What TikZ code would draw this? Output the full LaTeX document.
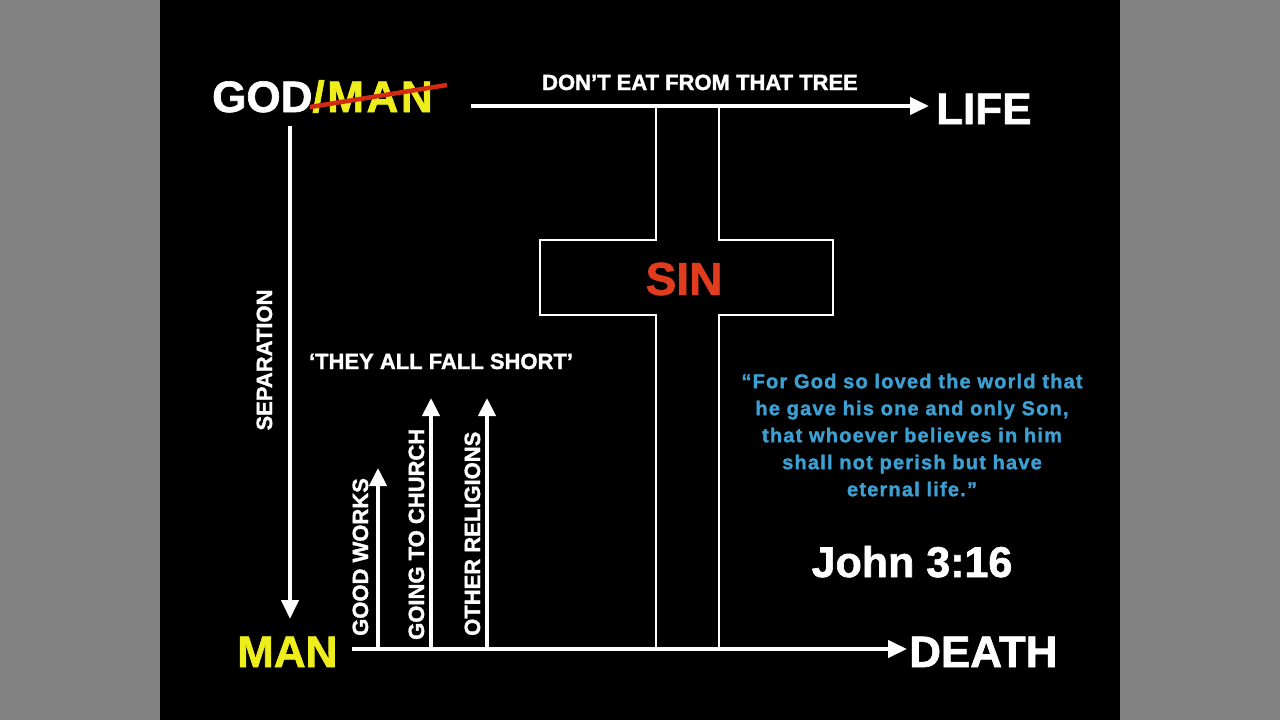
\documentclass[tikz,border=0pt]{standalone}
\usepackage{fontspec}
\setmainfont[BoldFeatures={FakeBold=1.5}]{Liberation Sans}
\newfontfamily\versefont[LetterSpace=6,BoldFeatures={FakeBold=1.5}]{Liberation Sans}
\usetikzlibrary{arrows.meta}
\definecolor{bggray}{HTML}{828282}
\definecolor{manyellow}{HTML}{EEEE1C}
\definecolor{sinred}{HTML}{E23C1E}
\definecolor{strikered}{HTML}{D42A12}
\definecolor{versecol}{HTML}{3CA0D2}
\begin{document}
\begin{tikzpicture}[x=1pt,y=-1pt,
  big/.style={font=\fontsize{44}{48}\selectfont\bfseries, inner sep=0pt, text=white},
  lbl/.style={font=\fontsize{22}{26}\selectfont\bfseries, inner sep=0pt, text=white},
  arr/.style={draw=white, line width=4pt, -{Triangle[length=19pt,width=17pt]}},
  uparr/.style={draw=white, line width=4pt, -{Triangle[length=18pt,width=17pt]}},
  crossline/.style={draw=white, line width=2pt},
  strike/.style={draw=strikered, line width=4.5pt}]
\useasboundingbox (0,0) rectangle (1280,720);
\fill[bggray] (0,0) rectangle (1280,720);
\fill[black] (160,0) rectangle (1120,720);

% main words
\node[big, anchor=base west] (god) at (212,112) {GOD\textcolor{manyellow}{\addfontfeature{LetterSpace=6}/MAN}};
\node[big, anchor=base west] (life) at (936,124) {LIFE};
\node[big, anchor=base west, text=manyellow] (man) at (237,667) {MAN};
\node[big, anchor=base west] (death) at (909,667) {DEATH};

% strike through /MAN
\coordinate (s1) at (310,107);
\coordinate (s2) at (447,85);
\draw[strike] (s1) -- (s2);

% labels
\node[lbl, anchor=base] (tree) at (700,90) {DON’T EAT FROM THAT TREE};
\node[lbl, anchor=base] (short) at (441,369) {‘THEY ALL FALL SHORT’};
\node[lbl, anchor=base, rotate=90] (sep) at (272,360) {SEPARATION};
\node[lbl, anchor=base west, rotate=90] (works) at (368,636) {GOOD WORKS};
\node[lbl, anchor=base west, rotate=90] (church) at (424,640) {GOING TO CHURCH};
\node[lbl, anchor=base west, rotate=90] (relig) at (480,636) {OTHER RELIGIONS};

% cross
\draw[crossline] (656,107) -- (656,240) -- (540,240) -- (540,315) -- (656,315) -- (656,649);
\draw[crossline] (719,107) -- (719,240) -- (833,240) -- (833,315) -- (719,315) -- (719,649);
\node[font=\fontsize{46}{50}\selectfont\bfseries, text=sinred, inner sep=0pt] (sin) at (684,279) {SIN};

% main arrows
\coordinate (topstart) at (471,106);
\coordinate (topend) at (929,106);
\draw[arr] (topstart) -- (topend);
\coordinate (sepstart) at (290,126);
\coordinate (sepend) at (290,619);
\draw[arr] (sepstart) -- (sepend);
\coordinate (botstart) at (352,649);
\coordinate (botend) at (907,649);
\draw[arr] (botstart) -- (botend);

% rising arrows
\coordinate (w0) at (378,647); \coordinate (w1) at (378,468);
\coordinate (c0) at (431,647); \coordinate (c1) at (431,398);
\coordinate (r0) at (487,647); \coordinate (r1) at (487,398);
\draw[uparr] (w0) -- (w1);
\draw[uparr] (c0) -- (c1);
\draw[uparr] (r0) -- (r1);

% verse
\node[font=\versefont\fontsize{20}{27}\selectfont\bfseries, text=versecol, align=center, anchor=north, inner sep=0pt] (verse) at (912,373.5)
  {“For God so loved the world that\\he gave his one and only Son,\\that whoever believes in him\\shall not perish but have\\eternal life.”};
\node[font=\fontsize{43}{48}\selectfont\bfseries, text=white, anchor=base, inner sep=0pt] (john) at (912,577) {John 3:16};
\end{tikzpicture}
\end{document}
